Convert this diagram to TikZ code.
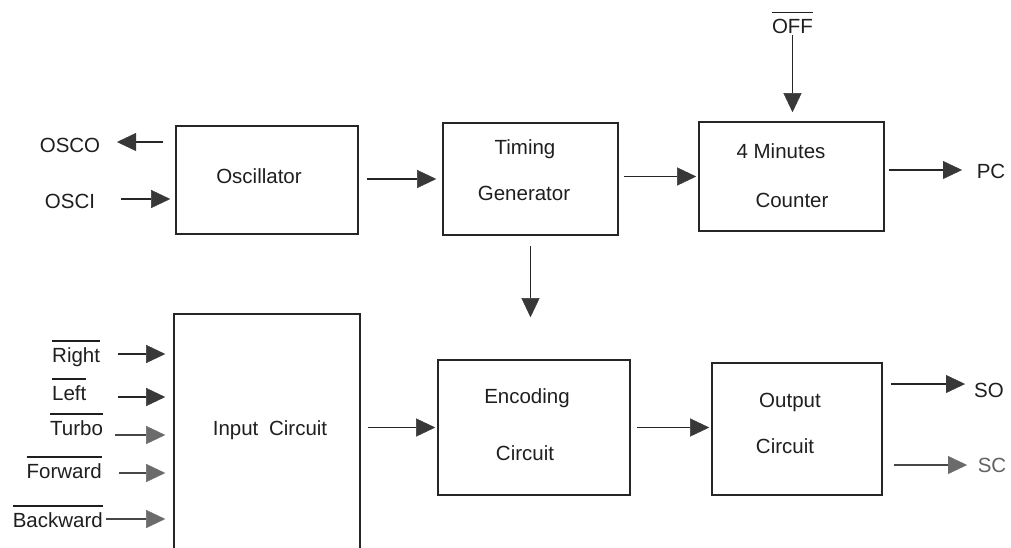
\documentclass[tikz,border=0pt]{standalone}
\usepackage{fontspec}
\setmainfont{Liberation Sans}
\usetikzlibrary{arrows.meta}
\newcommand\ovl[1]{\vbox{\hrule height 1.3pt\kern 5.5pt\hbox{#1}}}
\tikzset{
  box/.style={draw=black!85, line width=1.6pt, inner sep=0pt, fill=none},
  arr/.style={draw=black!85, line width=1.4pt,
    -{Triangle[length=19pt,width=18pt,line width=0.4pt,color=black!78,fill=black!78]}},
  arrl/.style={draw=black!72, line width=1.3pt,
    -{Triangle[length=19pt,width=18pt,line width=0.4pt,color=black!58,fill=black!58]}},
  lbl/.style={inner sep=0pt, text=black!88, font=\fontsize{20.5}{24}\selectfont},
}
\begin{document}
\begin{tikzpicture}[x=1pt,y=-1pt]
\clip (0,0) rectangle (1011,547);
\fill[white] (0,0) rectangle (1011,547);
% boxes
\node[box, minimum width=182pt, minimum height=108pt] (osc) at (267,180) {};
\node[box, minimum width=175pt, minimum height=112pt] (tim) at (530.5,179) {};
\node[box, minimum width=185pt, minimum height=109pt] (cnt) at (791.5,176.5) {};
\node[box, minimum width=186pt, minimum height=252pt] (inp) at (267,440) {};
\node[box, minimum width=192pt, minimum height=135pt] (enc) at (534,427.5) {};
\node[box, minimum width=170pt, minimum height=132pt] (out) at (797,429) {};
% box texts
\node[lbl, anchor=base] (tosc) at (259,183) {Oscillator};
\node[lbl, anchor=base] (ttim1) at (525,154) {Timing};
\node[lbl, anchor=base] (ttim2) at (524,200) {Generator};
\node[lbl, anchor=base] (tcnt1) at (781,158) {4 Minutes};
\node[lbl, anchor=base] (tcnt2) at (792,207) {Counter};
\node[lbl, anchor=base] (tinp) at (270,435) {Input\hspace{5pt} Circuit};
\node[lbl, anchor=base] (tenc1) at (527,403) {Encoding};
\node[lbl, anchor=base] (tenc2) at (525,460) {Circuit};
\node[lbl, anchor=base] (tout1) at (790,407) {Output};
\node[lbl, anchor=base] (tout2) at (785,453) {Circuit};
% signal labels
\node[lbl, anchor=base] (osco) at (70,152) {OSCO};
\node[lbl, anchor=base] (osci) at (70,208) {OSCI};
\node[lbl, anchor=base] (pc) at (991,178) {PC};
\node[lbl, anchor=base] (off) at (792.5,33) {\ovl{OFF}};
\node[lbl, anchor=base] (so) at (989,397) {SO};
\node[lbl, anchor=base, text=black!62] (sc) at (992,472) {SC};
\node[lbl, anchor=base west] (lr) at (52,362) {\ovl{Right}};
\node[lbl, anchor=base west] (ll) at (52,400) {\ovl{Left}};
\node[lbl, anchor=base west] (lt) at (50,435) {\ovl{Turbo}};
\node[lbl, anchor=base east] (lf) at (102,478) {\ovl{Forward}};
\node[lbl, anchor=base east] (lb) at (103,527) {\ovl{Backward}};
% arrow end coordinates
\coordinate (aosco) at (117,142);
\coordinate (aosci) at (121,199);
\coordinate (apc) at (962,170);
\coordinate (aso) at (965,384);
\coordinate (asc) at (967,465);
\coordinate (ar) at (118,354);
\coordinate (al) at (118,397);
\coordinate (at) at (115,435);
\coordinate (af) at (119,473);
\coordinate (ab) at (106,519);
% connectors
\draw[arr, shorten <=12pt] (aosco -| osc.west) -- (aosco);
\draw[arr, shorten >=5pt] (aosci) -- (aosci -| osc.west);
\draw[arr, shorten <=8pt, shorten >=6pt] (osc.east |- tim.west) -- (tim.west);
\draw[arr, shorten <=5pt, shorten >=2pt] (tim.east |- cnt.west) -- (cnt.west);
\draw[arr, shorten <=10pt, shorten >=42pt] (tim.south) -- (tim.south |- enc.north);
\draw[arr, shorten <=2pt, shorten >=9pt] (off.south) -- (off.south |- cnt.north);
\draw[arr, shorten <=4pt] (apc -| cnt.east) -- (apc);
\draw[arr, shorten <=7pt, shorten >=2pt] (inp.east |- enc.west) -- (enc.west);
\draw[arr, shorten <=6pt, shorten >=2pt] (enc.east) -- (enc.east -| out.west);
\draw[arr, shorten <=8pt] (aso -| out.east) -- (aso);
\draw[arrl, shorten <=11pt] (asc -| out.east) -- (asc);
\draw[arr, shorten >=8pt] (ar) -- (ar -| inp.west);
\draw[arr, shorten >=8pt] (al) -- (al -| inp.west);
\draw[arrl, shorten >=8pt] (at) -- (at -| inp.west);
\draw[arrl, shorten >=8pt] (af) -- (af -| inp.west);
\draw[arrl, shorten >=8pt] (ab) -- (ab -| inp.west);
\end{tikzpicture}
\end{document}
